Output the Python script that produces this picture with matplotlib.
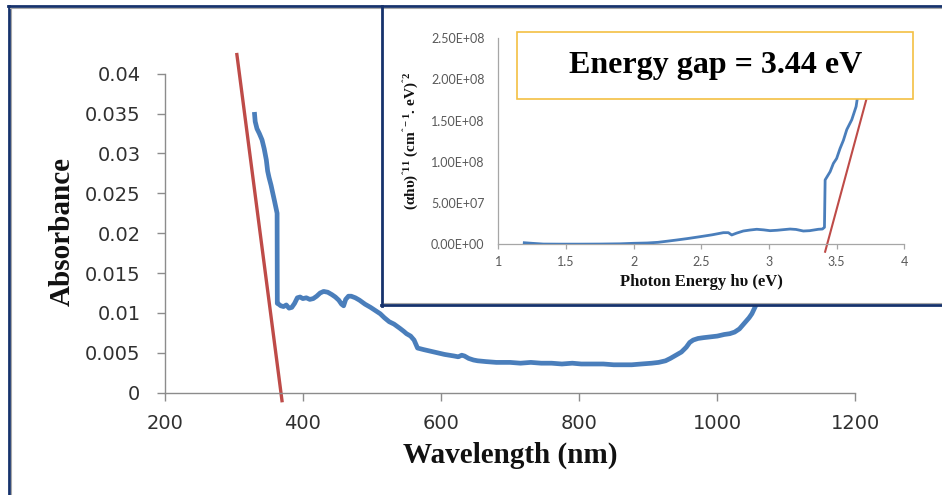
import matplotlib
matplotlib.use("Agg")
import matplotlib.pyplot as plt
from matplotlib.lines import Line2D
from matplotlib.patches import Rectangle

plt.rcParams['mathtext.fontset'] = 'custom'
plt.rcParams['mathtext.rm'] = 'Liberation Serif:bold'
plt.rcParams['mathtext.it'] = 'Liberation Serif:bold:italic'
plt.rcParams['mathtext.bf'] = 'Liberation Serif:bold'

# ---------------- data ----------------
wavelength = [330.1, 331, 333.6, 337, 340.9, 344, 347.1, 349, 351, 354, 356, 358.8, 361, 362.7,
              363.0, 365, 368, 372, 376, 380, 384, 388, 392, 396, 400, 405, 410, 415, 420, 425,
              430, 436, 442, 447, 452, 456, 459, 462, 466, 470, 476, 482, 490, 498, 505, 512,
              518, 525, 532, 540, 546, 550, 556, 561, 563, 566, 575, 585, 595, 605, 612, 619,
              625, 630, 634, 640, 647, 653, 665, 680, 700, 715, 730, 745, 760, 775, 790, 803,
              820, 835, 850, 865, 876, 890, 905, 915, 925, 932, 940, 948, 955, 960, 965, 972,
              980, 990, 1000, 1010, 1018, 1025, 1032, 1040, 1046, 1050, 1056, 1062, 1070]
absorbance = [0.0349, 0.0340, 0.0331, 0.0325, 0.0317, 0.0306, 0.0292, 0.0278, 0.0270, 0.0260,
              0.0252, 0.0241, 0.0232, 0.0225, 0.0112, 0.0111, 0.0109, 0.0108, 0.0110, 0.0106,
              0.0107, 0.0112, 0.0119, 0.0120, 0.0118, 0.0119, 0.0117, 0.0118, 0.0121, 0.0125,
              0.0127, 0.0126, 0.0123, 0.0120, 0.0116, 0.0111, 0.0109, 0.0117, 0.0121, 0.0121,
              0.0119, 0.0116, 0.0111, 0.0107, 0.0103, 0.0099, 0.0094, 0.0089, 0.0086, 0.0081,
              0.0077, 0.0074, 0.0071, 0.0066, 0.0062, 0.0056, 0.0054, 0.0052, 0.0050, 0.0048,
              0.0047, 0.0046, 0.0045, 0.0047, 0.0046, 0.0043, 0.0041, 0.0040, 0.0039, 0.0038,
              0.0038, 0.0037, 0.0038, 0.0037, 0.0037, 0.0036, 0.0037, 0.0036, 0.0036, 0.0036,
              0.0035, 0.0035, 0.0035, 0.0036, 0.0037, 0.0038, 0.0040, 0.0043, 0.0047, 0.0051,
              0.0057, 0.0063, 0.0066, 0.0068, 0.0069, 0.0070, 0.0071, 0.0073, 0.0074, 0.0076,
              0.0080, 0.0088, 0.0094, 0.0099, 0.0110, 0.0122, 0.0140]
edge_fit_x = [304.5, 369.8]
edge_fit_y = [0.0424, -0.0010]

energy = [1.192, 1.25, 1.333, 1.45, 1.6, 1.75, 1.9, 1.998, 2.1, 2.18, 2.25, 2.318, 2.4, 2.49,
          2.58, 2.663, 2.70, 2.725, 2.76, 2.81, 2.86, 2.91, 2.96, 3.008, 3.06, 3.11, 3.156, 3.2,
          3.254, 3.3, 3.365, 3.395, 3.41, 3.415, 3.452, 3.476, 3.50, 3.525, 3.55, 3.575, 3.612,
          3.644, 3.653, 3.68]
tauc = [1.9e6, 1.2e6, 0.3e6, 0.2e6, 0.2e6, 0.3e6, 0.6e6, 1.2e6, 1.6e6, 2.4e6, 3.8e6, 5.2e6,
        7.0e6, 9.2e6, 11.5e6, 14.1e6, 14.1e6, 11.3e6, 13.5e6, 16.1e6, 17.3e6, 18.2e6, 17.5e6,
        16.5e6, 17.0e6, 17.8e6, 18.5e6, 18.0e6, 16.1e6, 16.5e6, 18.2e6, 18.5e6, 20.6e6, 78e6,
        88e6, 98e6, 104e6, 116e6, 126e6, 139e6, 151e6, 167e6, 177e6, 210e6]
tauc_fit_x = [3.415, 3.76]
tauc_fit_y = [-9e6, 2.0e8]

main_xticks = [200, 400, 600, 800, 1000, 1200]
main_yticks = [0, 0.005, 0.01, 0.015, 0.02, 0.025, 0.03, 0.035, 0.04]
main_yticklabels = ['0', '0.005', '0.01', '0.015', '0.02', '0.025', '0.03', '0.035', '0.04']
inset_xticks = [1, 1.5, 2, 2.5, 3, 3.5, 4]
inset_xticklabels = ['1', '1.5', '2', '2.5', '3', '3.5', '4']
inset_yticks = [0, 5e7, 1e8, 1.5e8, 2e8, 2.5e8]
inset_yticklabels = ['0.00E+00', '5.00E+07', '1.00E+08', '1.50E+08', '2.00E+08', '2.50E+08']

BLUE = '#4a7ebb'
RED = '#be4b48'
NAVY = '#16326c'
W, H = 942, 495

def fx(px):
    return px / W

def fy(py):
    return 1 - py / H

fig = plt.figure(figsize=(9.42, 4.95), dpi=100)
fig.patch.set_facecolor('white')

# ---------------- main axes ----------------
ax = fig.add_axes([fx(164.7), fy(392.7), fx(855.5) - fx(164.7), fy(73.7) - fy(392.7)])
ax.set_zorder(0)
ax.plot(wavelength, absorbance, color=BLUE, lw=3.4, solid_joinstyle='round', zorder=3)
ax.plot(edge_fit_x, edge_fit_y, color=RED, lw=2.4, clip_on=False, zorder=2)
ax.set_xlim(200, 1200)
ax.set_ylim(0, 0.04)
ax.set_xticks(main_xticks)
ax.set_xticklabels([str(t) for t in main_xticks])
ax.set_yticks(main_yticks)
ax.set_yticklabels(main_yticklabels)
for s in ['top', 'right']:
    ax.spines[s].set_visible(False)
for s in ['left', 'bottom']:
    ax.spines[s].set_color('#8c8c8c')
    ax.spines[s].set_linewidth(1.0)
ax.tick_params(axis='both', colors='#8c8c8c', labelcolor='#303030', labelsize=14,
               length=5.5, width=1.0, direction='out')
ax.tick_params(axis='y', pad=12)
ax.tick_params(axis='x', pad=10)
ax.patch.set_alpha(0)

fig.text(fx(510), fy(455), 'Wavelength (nm)', ha='center', va='center',
         fontsize=21, fontweight='bold', family='Liberation Serif', color='#111111')
fig.text(fx(62), fy(232), 'Absorbance', ha='center', va='center', rotation=90,
         fontsize=21, fontweight='bold', family='Liberation Serif', color='#111111')

# ---------------- outer frame ----------------
fig.add_artist(Line2D([fx(8.5), fx(8.5)], [fy(6), fy(500)], color=NAVY, lw=2.0, zorder=5))
fig.add_artist(Line2D([fx(10.5), fx(10.5)], [fy(8), fy(500)], color='#a8a8a8', lw=0.8, zorder=5))
fig.add_artist(Line2D([fx(7.5), fx(945)], [fy(6), fy(6)], color=NAVY, lw=2.0, zorder=5))
fig.add_artist(Line2D([fx(10), fx(945)], [fy(8.3), fy(8.3)], color='#a8a8a8', lw=0.8, zorder=5))

# ---------------- inset panel ----------------
fig.add_artist(Rectangle((fx(381.5), fy(305)), fx(945) - fx(381.5), fy(6) - fy(305),
                         facecolor='white', edgecolor='none', zorder=1))
fig.add_artist(Line2D([fx(381.5), fx(381.5)], [fy(6), fy(306)], color=NAVY, lw=2.0, zorder=5))
fig.add_artist(Line2D([fx(383.5), fx(945)], [fy(303), fy(303)], color='#a8a8a8', lw=0.8, zorder=5))
fig.add_artist(Line2D([fx(380.5), fx(945)], [fy(305.3), fy(305.3)], color=NAVY, lw=2.0, zorder=5))

ins = fig.add_axes([fx(498.3), fy(244.3), fx(904.3) - fx(498.3), fy(38) - fy(244.3)])
ins.set_zorder(2)
ins.patch.set_alpha(0)
ins.plot(energy, tauc, color=BLUE, lw=2.0, zorder=3)
ins.plot(tauc_fit_x, tauc_fit_y, color=RED, lw=1.5, clip_on=False, zorder=2)
ins.set_xlim(1, 4)
ins.set_ylim(0, 2.5e8)
ins.set_xticks(inset_xticks)
ins.set_xticklabels(inset_xticklabels)
ins.set_yticks(inset_yticks)
ins.set_yticklabels(inset_yticklabels)
for s in ['top', 'right']:
    ins.spines[s].set_visible(False)
for s in ['left', 'bottom']:
    ins.spines[s].set_color('#a6a6a6')
    ins.spines[s].set_linewidth(0.9)
ins.tick_params(axis='x', colors='#a6a6a6', labelcolor='#595959', length=3.5, width=0.9, pad=5)
ins.tick_params(axis='y', colors='#a6a6a6', labelcolor='#595959', length=0, pad=10)
for lab in ins.get_xticklabels() + ins.get_yticklabels():
    lab.set_fontfamily('Lato')
    lab.set_fontsize(9)

fig.text(fx(701), fy(282.3), 'Photon Energy hυ (eV)', ha='center', va='center',
         fontsize=12, fontweight='bold', family='Liberation Serif', color='#111111', zorder=6)
fig.text(fx(411), fy(141.5),
         r'(αhυ)$^{\mathrm{ˆ11}}$ (cm$^{\mathrm{ˆ-1}}$. eV)$^{\mathrm{ˆ2}}$',
         ha='center', va='center', rotation=90, fontsize=11, fontweight='bold',
         family='Liberation Serif', color='#111111', zorder=6)

# text box
fig.add_artist(Rectangle((fx(517), fy(99)), fx(913) - fx(517), fy(31.7) - fy(99),
                         facecolor='white', edgecolor='#f4c043', lw=1.2, zorder=3))
fig.text(fx(715.8), fy(72.7), 'Energy gap = 3.44 eV', ha='center', va='baseline',
         fontsize=23, fontweight='bold', family='Liberation Serif', color='black', zorder=4)

fig.savefig('out.png', dpi=100)
